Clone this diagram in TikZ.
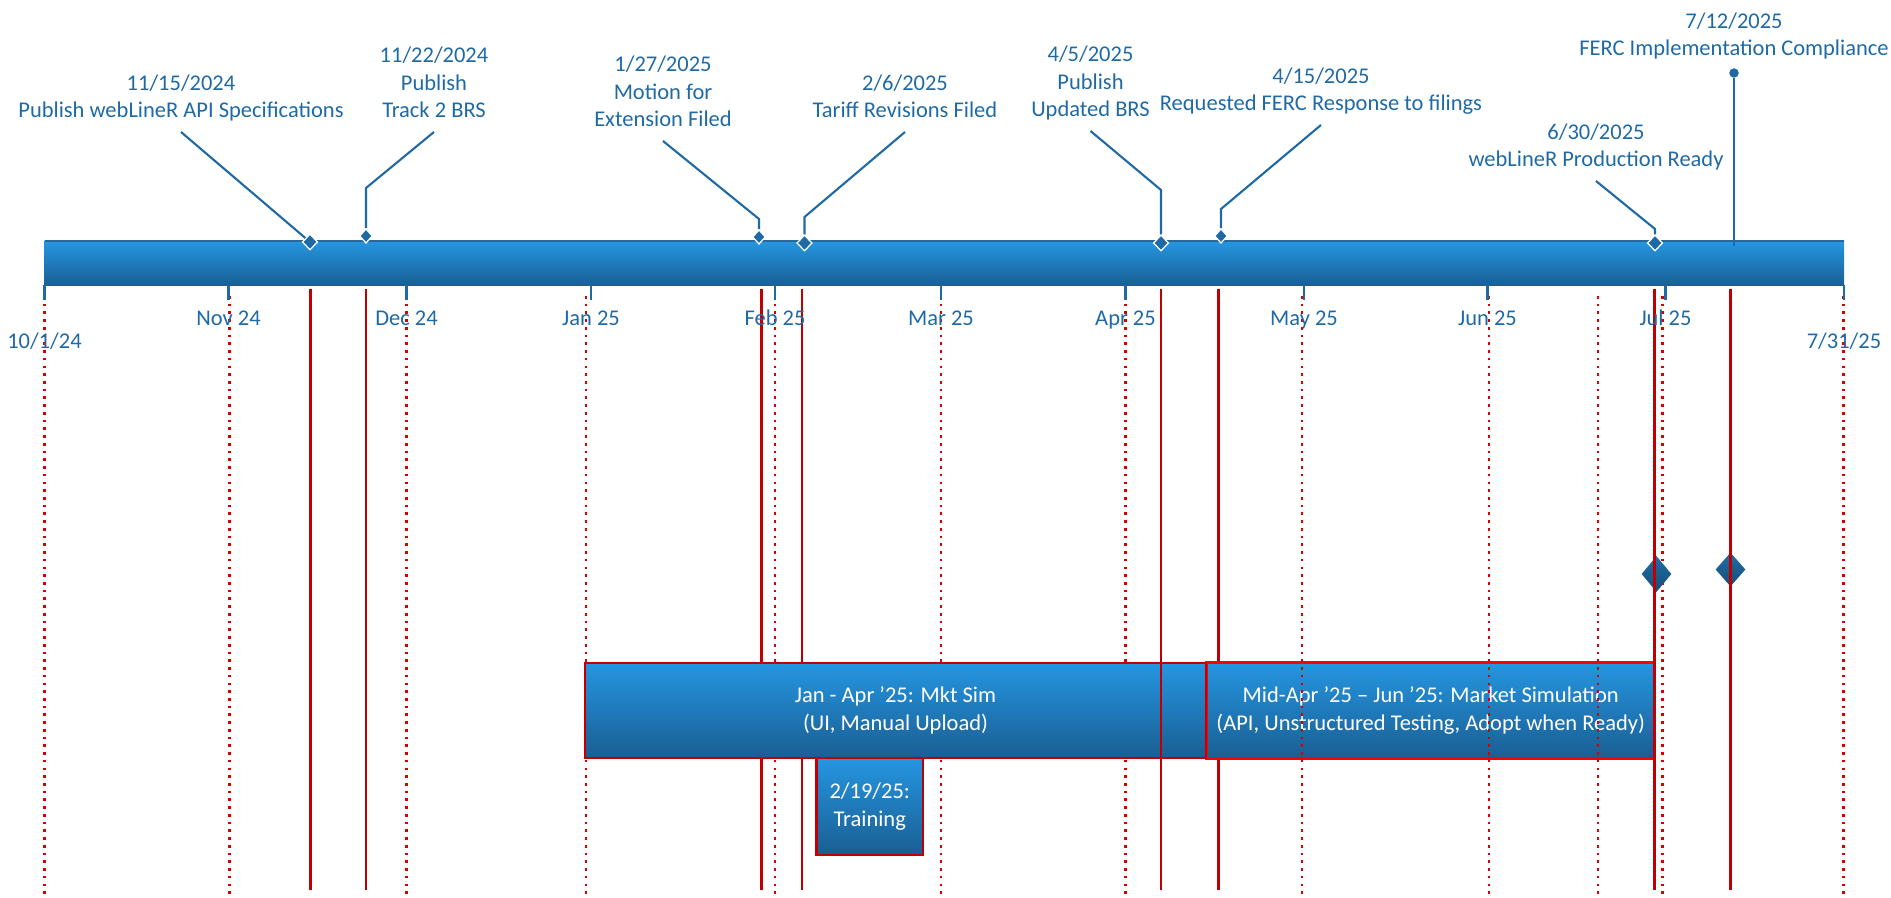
\documentclass[tikz,border=0pt]{standalone}
\usepackage{fontspec}
\setmainfont{Carlito}
\usetikzlibrary{shapes.geometric}
\definecolor{tlblue}{RGB}{31,106,165}
\definecolor{barline}{RGB}{40,105,155}
\definecolor{bartop}{RGB}{37,150,225}
\definecolor{barbot}{RGB}{26,94,146}
\definecolor{dkred}{RGB}{192,0,0}
\definecolor{dotred}{RGB}{215,0,0}
\definecolor{dmdtop}{RGB}{31,110,168}
\definecolor{dmdbot}{RGB}{22,78,120}

\begin{document}
\begin{tikzpicture}[x=0.02cm,y=-0.02cm]
        \tikzstyle{every node}=[font=\fontsize{12.8}{15.9}\selectfont]
        \tikzstyle{note}=[text=tlblue,align=center,anchor=south,inner sep=3pt,text depth=4.8pt]
        \tikzstyle{leader}=[tlblue,line width=1.2pt]
        \tikzstyle{msdot}=[diamond,fill=tlblue,draw=white,line width=0.7pt,inner sep=0pt,minimum width=0.31cm,minimum height=0.32cm]
        \tikzstyle{msdotsm}=[msdot,minimum width=0.26cm,minimum height=0.29cm]
        \tikzstyle{monthlbl}=[text=tlblue,anchor=base]
        \tikzstyle{gridline}=[dotred,line width=1.3pt,dash pattern=on 1.5pt off 2.9pt]
        \tikzstyle{redline}=[dkred,line width=1.2pt]
        \tikzstyle{phasebox}=[top color=bartop,bottom color=barbot,text=white,align=center,line width=1.6pt,inner sep=0pt]
        \tikzstyle{bigdiamond}=[diamond,top color=dmdtop,bottom color=dmdbot,inner sep=0pt,minimum width=0.6cm,minimum height=0.72cm]
        \useasboundingbox (0,0) rectangle (1891,898);
        % phases and grid
        \draw[redline] (1218.5,289) -- (1218.5,890);
        \node[phasebox,draw=red,minimum width=8.96cm,minimum height=1.92cm] (sim2) at (1430.7,710.8) {Mid-Apr ’25 – Jun ’25: Market Simulation\\(API, Unstructured Testing, Adopt when Ready)};
        \foreach \x in {44.5,229.5,406.5,586,775,941,1125.5,1302,1489,1598,1662.5,1843.5}
            \draw[gridline] (\x,296) -- (\x,898);
        \node[bigdiamond] (d1) at (1656.5,574) {};
        \node[bigdiamond,minimum height=0.68cm] (d2) at (1730.5,569.5) {};
        \foreach \x in {310.5,366.3,761.5,802,1654.5,1730.5}
            \draw[redline] (\x,289) -- (\x,890);
        \node[phasebox,draw=dkred,minimum width=12.42cm,minimum height=1.9cm] (sim1) at (895.5,710.5) {Jan - Apr ’25: Mkt Sim\\(UI, Manual Upload)};
        \node[phasebox,draw=dkred,minimum width=2.13cm,minimum height=1.94cm] (train) at (869.75,806.5) {2/19/25:\\Training};
        \draw[redline] (1161,289) -- (1161,890);
        % timeline bar
        \shade[top color=bartop,bottom color=barbot] (44.5,241) rectangle (1844,286);
        \draw[barline,line width=1.5pt] (44.5,241) -- (1844,241);
        \foreach \x in {44.5,228.5,406.5,591,775,941,1125.5,1304,1487.5,1665.5,1844}
            \draw[tlblue,line width=1.4pt] (\x,285) -- (\x,300);
        \foreach \x/\m [count=\i] in {228.5/Nov 24,406.5/Dec 24,591/Jan 25,775/Feb 25,941/Mar 25,1125.5/Apr 25,1304/May 25,1487.5/Jun 25,1665.5/Jul 25}
            \node[monthlbl] (mon\i) at (\x,326) {\m};
        \node[monthlbl] (tlstart) at (44.5,349) {10/1/24};
        \node[monthlbl] (tlend) at (1844,349) {7/31/25};
        % milestones
        \node[msdot] (m1) at (310,242) {};
        \node[msdotsm] (m2) at (366,236) {};
        \node[msdotsm] (m3) at (759,237) {};
        \node[msdot] (m4) at (804.5,243) {};
        \node[msdot] (m5) at (1161,243) {};
        \node[msdotsm] (m6) at (1221,236) {};
        \node[msdot] (m7) at (1655,243) {};
        \node[note] (t1) at (181,132) {11/15/2024\\Publish webLineR API Specifications};
        \node[note] (t2) at (434,132) {11/22/2024\\Publish\\Track 2 BRS};
        \node[note] (t3) at (663,141) {1/27/2025\\Motion for\\Extension Filed};
        \node[note] (t4) at (905,132) {2/6/2025\\Tariff Revisions Filed};
        \node[note] (t5) at (1090.5,131) {4/5/2025\\Publish\\Updated BRS};
        \node[note] (t6) at (1321,125) {4/15/2025\\Requested FERC Response to filings};
        \node[note] (t7) at (1596,181) {6/30/2025\\webLineR Production Ready};
        \node[note] (t8) at (1734,70) {7/12/2025\\FERC Implementation Compliance};
        \coordinate (b2) at (366,188);
        \coordinate (b3) at (759,219);
        \coordinate (b4) at (804.5,217);
        \coordinate (b5) at (1161,190);
        \coordinate (b6) at (1221,209);
        \coordinate (b7) at (1655,229);
        \draw[leader] (m1) -- (t1.south);
        \draw[leader] (m2) -- (b2) -- (t2.south);
        \draw[leader] (m3) -- (b3) -- (t3.south);
        \draw[leader] (m4) -- (b4) -- (t4.south);
        \draw[leader] (m5) -- (b5) -- (t5.south);
        \draw[leader] (m6) -- (b6) -- (t6.south);
        \draw[leader] (m7) -- (b7) -- (t7.south);
        \node[circle,fill=tlblue,inner sep=0pt,minimum size=0.19cm] (p8) at (1734,73) {};
        \coordinate (f8) at (1734,246);
        \draw[leader,line width=1.4pt] (p8) -- (f8);
\end{tikzpicture}
\end{document}
